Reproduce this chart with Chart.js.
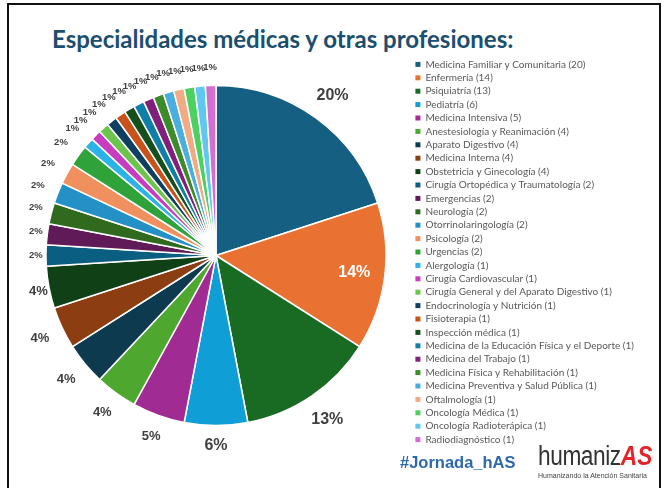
<!DOCTYPE html>
<html lang="es">
<head>
<meta charset="utf-8">
<title>Especialidades médicas y otras profesiones</title>
<script src="https://cdn.jsdelivr.net/npm/chart.js@4.4.1/dist/chart.umd.min.js"></script>
<style>
    html, body { margin: 0; padding: 0; background: #fff; }
    body { width: 666px; height: 488px; position: relative; overflow: hidden; }
    .frame { position: absolute; left: 7px; top: 3px; width: 650px; height: 500px; border: 2px solid #111; }
    h1 { position: absolute; left: 52px; top: 24px; margin: 0; white-space: nowrap;
         font: bold 24px Lato, sans-serif; color: #1c4e6e; }
    #chartBox { position: absolute; left: 0; top: 0; }
    .hashtag { position: absolute; left: 400px; top: 453px; font: bold 16.5px "Liberation Sans", Arial, sans-serif; color: #2e6aab; }
    .logo { position: absolute; left: 538px; top: 441px; white-space: nowrap; transform: scaleX(0.84); transform-origin: left top; }
    .logo .word { font: 27px "Liberation Sans Narrow", "Liberation Sans", sans-serif; color: #333; letter-spacing: -0.5px; }
    .logo .as { font: italic bold 27px "Liberation Sans", sans-serif; color: #e3242b; }
    .logo-sub { position: absolute; left: 538px; top: 472px; white-space: nowrap;
                font: 7px "Liberation Sans Narrow", "Liberation Sans", sans-serif; color: #444; }
</style>
</head>
<body>
<div class="frame"></div>
<h1>Especialidades médicas y otras profesiones:</h1>
<canvas id="chartBox" width="666" height="488"></canvas>
<div class="hashtag">#Jornada_hAS</div>
<div class="logo"><span class="word">humaniz</span><span class="as">AS</span></div>
<div class="logo-sub">Humanizando la Atención Sanitaria</div>

<script>
// Specialties and number of participants
const specialties = [
    'Medicina Familiar y Comunitaria', 'Enfermería', 'Psiquiatría', 'Pediatría', 'Medicina Intensiva',
    'Anestesiología y Reanimación', 'Aparato Digestivo', 'Medicina Interna', 'Obstetricia y Ginecología',
    'Cirugía Ortopédica y Traumatología', 'Emergencias', 'Neurología', 'Otorrinolaringología', 'Psicología',
    'Urgencias', 'Alergología', 'Cirugía Cardiovascular', 'Cirugía General y del Aparato Digestivo',
    'Endocrinología y Nutrición', 'Fisioterapia', 'Inspección médica',
    'Medicina de la Educación Física y el Deporte', 'Medicina del Trabajo', 'Medicina Física y Rehabilitación',
    'Medicina Preventiva y Salud Pública', 'Oftalmología', 'Oncología Médica', 'Oncología Radioterápica',
    'Radiodiagnóstico'
];
const counts = [20, 14, 13, 6, 5, 4, 4, 4, 4, 2, 2, 2, 2, 2, 2, 1, 1, 1, 1, 1, 1, 1, 1, 1, 1, 1, 1, 1, 1];

const sliceColors = [
    '#156082', '#E97132', '#196B24', '#0F9ED5', '#A02B93', '#4EA72E',
    '#0D3A4F', '#8C3D12', '#0F4016', '#0A5E80', '#601A58', '#2F6A1E',
    '#2390C6', '#F0905E', '#2FA33A', '#2AB3E8', '#C83CBF', '#6CC44C',
    '#0F4060', '#C8521A', '#144F1C', '#0F7FA8', '#80207A', '#3C8A2A',
    '#4AAEE0', '#F2AA85', '#4CD060', '#60C8F0', '#D36FCF'
];

const total = counts.reduce((a, b) => a + b, 0);

// Percentage labels around the pie, kept inside the plot on the left
const pctLabels = {
    id: 'pctLabels',
    afterDatasetsDraw(chart) {
        const { ctx } = chart;
        const meta = chart.getDatasetMeta(0);
        ctx.save();
        ctx.textAlign = 'center';
        ctx.textBaseline = 'middle';
        meta.data.forEach((arc, i) => {
            const pct = Math.round(counts[i] / total * 100);
            const text = pct + '%';
            const size = pct >= 6 ? 16 : pct >= 4 ? 13 : 9.5;
            ctx.font = `bold ${size}px "Liberation Sans", Arial, sans-serif`;
            const mid = (arc.startAngle + arc.endAngle) / 2;
            const ux = Math.cos(mid);
            const uy = Math.sin(mid);
            let x, y;
            if (i === 1) {
                const r = arc.outerRadius * 0.82;
                x = arc.x + r * ux;
                y = arc.y + r * uy;
                ctx.fillStyle = '#fff';
            } else {
                const w = ctx.measureText(text).width;
                const h = size * 0.75;
                const r = arc.outerRadius + 14 + 0.5 * (Math.abs(ux) * w + Math.abs(uy) * h);
                x = arc.x + r * ux;
                y = arc.y + r * uy;
                x = Math.max(x, 29 + w / 2);
                ctx.fillStyle = '#404040';
            }
            ctx.fillText(text, x, y);
        });
        ctx.restore();
    }
};

new Chart(document.getElementById('chartBox'), {
    type: 'pie',
    data: {
        labels: specialties,
        datasets: [{
            data: counts,
            backgroundColor: sliceColors,
            borderColor: '#fff',
            borderWidth: 1.5,
        }],
    },
    options: {
        responsive: false,
        animation: false,
        radius: 170,
        layout: { padding: { left: 20, top: 56, bottom: 33, right: 22 } },
        plugins: {
            tooltip: { enabled: false },
            legend: {
                position: 'right',
                align: 'start',
                labels: {
                    usePointStyle: true,
                    pointStyle: 'rect',
                    boxWidth: 5,
                    boxHeight: 5,
                    padding: 3.4,
                    color: '#595959',
                    font: { family: 'Lato', size: 10 },
                    generateLabels: () => specialties.map((name, i) => ({
                        text: `${name} (${counts[i]})`,
                        fillStyle: sliceColors[i],
                        strokeStyle: sliceColors[i],
                        lineWidth: 0,
                        pointStyle: 'rect',
                        fontColor: '#595959',
                        hidden: false,
                        index: i,
                    })),
                },
            },
        },
    },
    plugins: [pctLabels],
});
</script>
</body>
</html>
